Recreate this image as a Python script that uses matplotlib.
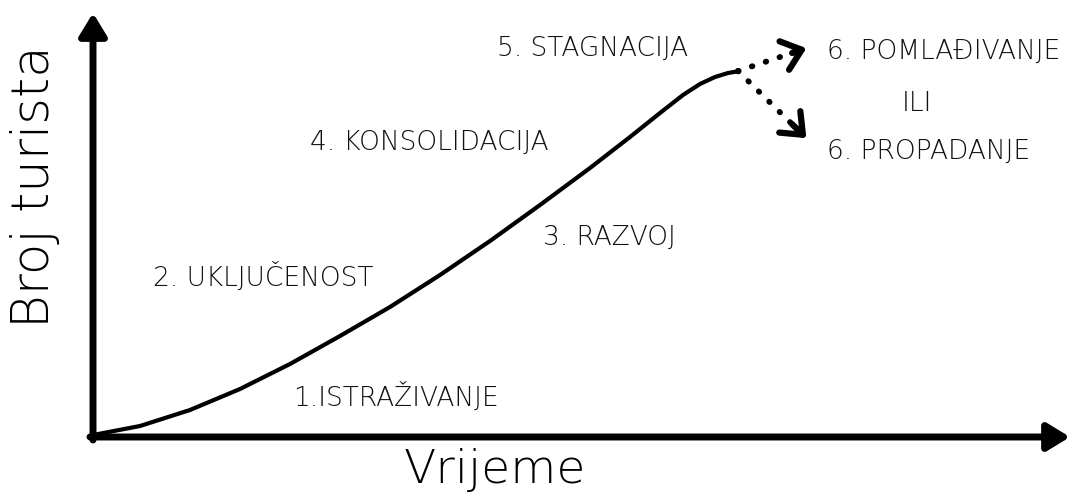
import matplotlib
matplotlib.use("Agg")
import matplotlib.pyplot as plt

plt.rcParams['font.family'] = ['DejaVu Sans']

# ==========================
# data (vrijeme, broj turista)
# ==========================
vrijeme = [0, 47, 97, 147, 197, 247, 297, 347, 397, 447, 497, 537, 567, 590, 607, 622, 635, 644]
turisti = [2, 11, 27, 48, 73, 101, 130, 162, 196, 232, 269, 300, 324, 342, 353, 360, 364, 365.5]

# dva moguća nastavka nakon stagnacije
pomladivanje_x = [645, 702]
pomladivanje_y = [366, 385]
propadanje_x = [645, 702]
propadanje_y = [366, 310]

faze = ["1.ISTRAŽIVANJE", "2. UKLJUČENOST", "3. RAZVOJ", "4. KONSOLIDACIJA",
        "5. STAGNACIJA", "6. POMLAĐIVANJE", "ILI", "6. PROPADANJE"]
faze_x = [200, 60, 450, 217, 404, 734, 809, 734]
faze_y = [41, 161, 200, 295, 389, 386, 334, 286]

# ==========================
# crtanje
# ==========================
fig = plt.figure(figsize=(10.73, 4.98), dpi=100)
ax = fig.add_axes([0, 0, 1, 1])
ax.set_xlim(-93, 980)
ax.set_ylim(-61, 437)
ax.axis('off')

# osi sa strelicama
ax.annotate('', xy=(0, 424), xytext=(0, -3),
            arrowprops=dict(arrowstyle='-|>,head_length=0.9,head_width=0.55',
                            lw=5, color='black', mutation_scale=15,
                            shrinkA=0, shrinkB=0, joinstyle='round'))
ax.annotate('', xy=(977, 0), xytext=(-3, 0),
            arrowprops=dict(arrowstyle='-|>,head_length=0.9,head_width=0.55',
                            lw=5, color='black', mutation_scale=15,
                            shrinkA=0, shrinkB=0, joinstyle='round'))

# krivulja
ax.plot(vrijeme, turisti, color='black', lw=3, solid_capstyle='round',
        solid_joinstyle='round')

# točkaste strelice
for xs, ys in [(pomladivanje_x, pomladivanje_y), (propadanje_x, propadanje_y)]:
    ax.plot(xs, ys, color='black', lw=4.2, dashes=(0.1, 2.4),
            dash_capstyle='round')
    dx = xs[1] - xs[0]
    dy = ys[1] - ys[0]
    ax.annotate('', xy=(xs[1] + dx * 0.2, ys[1] + dy * 0.2),
                xytext=(xs[1] - dx * 0.05, ys[1] - dy * 0.05),
                arrowprops=dict(arrowstyle='->,head_length=0.55,head_width=0.45',
                                lw=4.5, color='black', mutation_scale=24,
                                shrinkA=0, shrinkB=0))

# oznake faza
for t, x, y in zip(faze, faze_x, faze_y):
    ax.text(x, y, t, fontsize=19, fontweight='light', ha='left', va='center',
            color='#111111')

# nazivi osi
ax.text(-58, 250, "Broj turista", fontsize=37, fontweight='light',
        rotation=90, ha='center', va='center')
ax.text(402, -33, "Vrijeme", fontsize=34, fontweight='light',
        ha='center', va='center')

plt.savefig("out.png", dpi=100)
